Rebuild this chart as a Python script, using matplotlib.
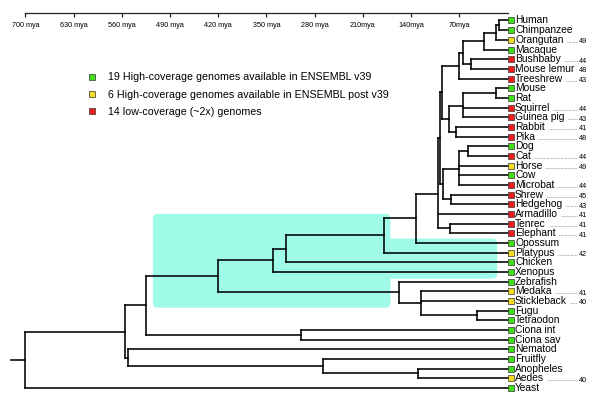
import numpy as np
import matplotlib

matplotlib.use("Agg")
import matplotlib.pyplot as plt  # noqa: E402
from matplotlib.lines import Line2D  # noqa: E402
from matplotlib.patches import FancyBboxPatch  # noqa: E402
from matplotlib.transforms import offset_copy  # noqa: E402

# leaves top to bottom, genome status, read numbers
LEAVES = ["Human", "Chimpanzee", "Orangutan", "Macaque", "Bushbaby", "Mouse lemur",
          "Treeshrew", "Mouse", "Rat", "Squirrel", "Guinea pig", "Rabbit", "Pika",
          "Dog", "Cat", "Horse", "Cow", "Microbat", "Shrew", "Hedgehog", "Armadillo",
          "Tenrec", "Elephant", "Opossum", "Platypus", "Chicken", "Xenopus",
          "Zebrafish", "Medaka", "Stickleback", "Fugu", "Tetraodon", "Ciona int",
          "Ciona sav", "Nematod", "Fruitfly", "Anopheles", "Aedes", "Yeast"]
STATUS = list("GGYGRRRGGRRRRGRYGRRRRRRGYGGGYYGGGGGGGYG")
READS = {"Orangutan": 49, "Bushbaby": 44, "Mouse lemur": 48, "Treeshrew": 43,
         "Squirrel": 44, "Guinea pig": 43, "Rabbit": 41, "Pika": 48, "Cat": 44,
         "Horse": 49, "Microbat": 44, "Shrew": 45, "Hedgehog": 43, "Armadillo": 41,
         "Tenrec": 41, "Elephant": 41, "Platypus": 42, "Medaka": 41,
         "Stickleback": 40, "Aedes": 40}

# internal nodes (name, age in mya, children), children listed before parents
NODES = [
    ("HC", 13, ["Human", "Chimpanzee"]),
    ("HCO", 16, ["HC", "Orangutan"]),
    ("Catarrhini", 34, ["HCO", "Macaque"]),
    ("Strep", 53, ["Bushbaby", "Mouse lemur"]),
    ("Primates", 65, ["Catarrhini", "Strep"]),
    ("Euarchonta", 71, ["Primates", "Treeshrew"]),
    ("MR", 17, ["Mouse", "Rat"]),
    ("Rodentia", 65, ["MR", "Squirrel", "Guinea pig"]),
    ("Lago", 75, ["Rabbit", "Pika"]),
    ("Glires", 85, ["Rodentia", "Lago"]),
    ("Euarch", 95, ["Euarchonta", "Glires"]),
    ("DC", 58, ["Dog", "Cat"]),
    ("Fereuung", 71, ["DC", "Horse", "Cow", "Microbat"]),
    ("Eulipo", 81.5, ["Shrew", "Hedgehog"]),
    ("Laur", 93.5, ["Fereuung", "Eulipo"]),
    ("Boreo", 97.5, ["Euarch", "Laur"]),
    ("Afro", 84, ["Tenrec", "Elephant"]),
    ("Placentalia", 100.5, ["Boreo", "Armadillo", "Afro"]),
    ("Theria", 133, ["Placentalia", "Opossum"]),
    ("Mammalia", 179, ["Theria", "Platypus"]),
    ("Amniota", 322, ["Mammalia", "Chicken"]),
    ("Tetrapoda", 341, ["Amniota", "Xenopus"]),
    ("FT", 45, ["Fugu", "Tetraodon"]),
    ("Acanth", 125, ["Medaka", "Stickleback", "FT"]),
    ("Teleostei", 158, ["Zebrafish", "Acanth"]),
    ("Vertebrata", 420, ["Tetrapoda", "Teleostei"]),
    ("Ciona", 300, ["Ciona int", "Ciona sav"]),
    ("Chordata", 525, ["Vertebrata", "Ciona"]),
    ("Mosq", 130, ["Anopheles", "Aedes"]),
    ("Diptera", 268, ["Fruitfly", "Mosq"]),
    ("Ecdysozoa", 551, ["Nematod", "Diptera"]),
    ("Bilateria", 556, ["Chordata", "Ecdysozoa"]),
    ("Root", 700, ["Bilateria", "Yeast"]),
]
ROOT_STUB = 721

TICKS = [700, 630, 560, 490, 420, 350, 280, 210, 140, 70]
TICK_LABELS = ["700 mya", "630 mya", "560 mya", "490 mya", "420 mya", "350 mya",
               "280 mya", "210mya", "140mya", "70mya"]

LEGEND = {"G": ("#3fe01a", "19 High-coverage genomes available in ENSEMBL v39"),
          "Y": ("#f2dc22", "6 High-coverage genomes available in ENSEMBL post v39"),
          "R": ("#ee1c1c", "14 low-coverage (~2x) genomes")}

# highlighted clades: (old mya, young mya, top leaf idx, bottom leaf idx)
BOXES = [(515, 170, 20.0, 29.7), (200, 15, 22.55, 26.7)]
BOX_COLOR = "#9ffbe7"

FONT = ["Liberation Sans", "DejaVu Sans"]
NARROW = ["Liberation Sans Narrow", "Liberation Sans", "DejaVu Sans"]
plt.rcParams["font.family"] = FONT

fig = plt.figure(figsize=(6.0, 4.04), dpi=100)
ax = fig.add_axes([0, 0, 1, 1])
ax.set_xlim(737, -134.3)
ax.set_ylim(39.66, -2.12)

lw = dict(color="black", lw=1.15, solid_capstyle="projecting", zorder=2)

ypos = {n: float(i) for i, n in enumerate(LEAVES)}
age = {n: 0.0 for n in LEAVES}
for name, t, kids in NODES:
    age[name] = t
    ys = [ypos[k] for k in kids]
    ypos[name] = float(np.mean(ys))
    ax.plot([t, t], [min(ys), max(ys)], **lw)
    for k in kids:
        ax.plot([t, age[k]], [ypos[k], ypos[k]], **lw)
ax.plot([ROOT_STUB, age["Root"]], [ypos["Root"]] * 2, **lw)

# shaded clade boxes, rounding equal in pixels
px_x = fig.dpi * 6.0 / (737 + 134.3)
px_y = fig.dpi * 4.04 / (39.66 + 2.12)
for old, young, top, bot in BOXES:
    ax.add_patch(FancyBboxPatch((young, top), old - young, bot - top,
                                boxstyle="round,pad=0,rounding_size=7",
                                mutation_aspect=px_x / px_y,
                                fc=BOX_COLOR, ec="none", zorder=0))

# leaf squares and names
sq_tr = offset_copy(ax.transData, fig=fig, x=3.5, y=0, units="dots")
labels = []
for i, (name, st) in enumerate(zip(LEAVES, STATUS)):
    ax.plot(0, i, "s", ms=4.3, mfc=LEGEND[st][0], mec="#333333", mew=0.5,
            transform=sq_tr, zorder=3)
    labels.append(ax.annotate(name, (0, i), xytext=(7.5, 0), textcoords="offset pixels",
                              va="center", ha="left", fontsize=7.4))

# axis scale on top
for s in ["top", "left", "right"]:
    ax.spines[s].set_visible(False)
ax.spines["bottom"].set_position(("data", -0.75))
ax.spines["bottom"].set_bounds(0, 700)
ax.spines["bottom"].set_linewidth(0.9)
ax.spines["bottom"].set_color("#222222")
ax.set_xticks(TICKS)
ax.set_xticklabels(TICK_LABELS, fontsize=5.2, family=NARROW)
ax.tick_params(axis="x", direction="out", length=3, width=0.9, pad=3.5, color="#222222")
ax.set_yticks([])

handles = [Line2D([], [], ls="none", marker="s", ms=4.5, mfc=c, mec="#333333", mew=0.5)
           for c, _ in LEGEND.values()]
fig.legend(handles, [t for _, t in LEGEND.values()], loc="upper left",
           bbox_to_anchor=(86.5 / 600, 1 - 72.5 / 404), frameon=False, fontsize=7.7,
           borderpad=0, borderaxespad=0, handlelength=1.0, handletextpad=1.0,
           labelspacing=0.68)

# read numbers with dotted leaders
fig.canvas.draw()
rend = fig.canvas.get_renderer()
x0_disp = ax.transData.transform((0, 0))[0]
inv = ax.transData.inverted()
for i, name in enumerate(LEAVES):
    if name not in READS:
        continue
    ax.annotate(str(READS[name]), (0, i), xytext=(71, -2), textcoords="offset pixels",
                va="center", ha="left", fontsize=5.2)
    x1 = labels[i].get_window_extent(rend).x1 + 3
    x2 = x0_disp + 69
    if x2 - x1 > 3:
        xa = inv.transform((x1, 0))[0]
        xb = inv.transform((x2, 0))[0]
        ax.plot([xa, xb], [i + 2 / px_y] * 2, color="#777777", lw=0.5, ls=(0, (1, 1)))

fig.savefig("out.png", dpi=100)
